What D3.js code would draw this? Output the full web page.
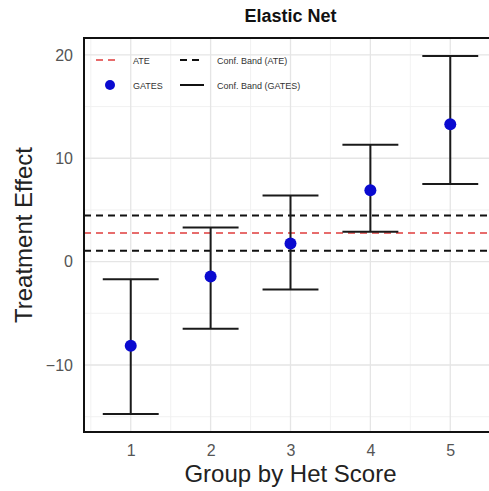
<!DOCTYPE html>
<html>
<head>
<meta charset="utf-8">
<script src="https://cdn.jsdelivr.net/npm/d3@7"></script>
<style>
  html, body { margin: 0; padding: 0; background: #fff; }
  svg { display: block; font-family: "Liberation Sans", Arial, sans-serif; }
</style>
</head>
<body>
<svg id="chart" width="489" height="491"></svg>
<script>
// ---- data ----
const groups = [1, 2, 3, 4, 5];
const gates = [-8.15, -1.45, 1.75, 6.9, 13.3];
const gatesLower = [-14.75, -6.5, -2.7, 2.9, 7.5];
const gatesUpper = [-1.7, 3.3, 6.4, 11.3, 19.9];
const ate = 2.76;
const ateLower = 1.06;
const ateUpper = 4.46;
const yTicks = [-10, 0, 10, 20];
const xTicks = [1, 2, 3, 4, 5];
const legendLabels = ["ATE", "Conf. Band (ATE)", "GATES", "Conf. Band (GATES)"];
const titleText = "Elastic Net";
const xTitle = "Group by Het Score";
const yTitle = "Treatment Effect";

// ---- layout ----
const svg = d3.select("#chart");
const panel = { left: 84, top: 38, right: 497, bottom: 432 };
const capHalf = 0.35;

const x = d3.scaleLinear().domain([0.415, 5.585]).range([panel.left, panel.right]);
const yMin = d3.min(gatesLower), yMax = d3.max(gatesUpper);
const pad = (yMax - yMin) * 0.05;
const y = d3.scaleLinear().domain([yMin - pad, yMax + pad]).range([panel.bottom, panel.top]);

// panel background
svg.append("rect").attr("x", panel.left).attr("y", panel.top)
  .attr("width", panel.right - panel.left).attr("height", panel.bottom - panel.top)
  .attr("fill", "#fff");

// grid
const gGrid = svg.append("g");
const xMinor = [0.5, 1.5, 2.5, 3.5, 4.5, 5.5];
const yMinor = [-15, -5, 5, 15];
gGrid.selectAll(".xm").data(xMinor).join("line")
  .attr("x1", d => x(d)).attr("x2", d => x(d)).attr("y1", panel.top).attr("y2", panel.bottom)
  .attr("stroke", "#f1f1f1").attr("stroke-width", 0.9);
gGrid.selectAll(".ym").data(yMinor).join("line")
  .attr("y1", d => y(d)).attr("y2", d => y(d)).attr("x1", panel.left).attr("x2", panel.right)
  .attr("stroke", "#f1f1f1").attr("stroke-width", 0.9);
gGrid.selectAll(".xM").data(xTicks).join("line")
  .attr("x1", d => x(d)).attr("x2", d => x(d)).attr("y1", panel.top).attr("y2", panel.bottom)
  .attr("stroke", "#e5e5e5").attr("stroke-width", 1.3);
gGrid.selectAll(".yM").data(yTicks).join("line")
  .attr("y1", d => y(d)).attr("y2", d => y(d)).attr("x1", panel.left).attr("x2", panel.right)
  .attr("stroke", "#e5e5e5").attr("stroke-width", 1.3);

// ATE band lines
const hl = svg.append("g");
[ateUpper, ateLower].forEach(v => {
  hl.append("line").attr("x1", panel.left).attr("x2", panel.right)
    .attr("y1", y(v)).attr("y2", y(v))
    .attr("stroke", "#111").attr("stroke-width", 2).attr("stroke-dasharray", "7,5");
});
hl.append("line").attr("x1", panel.left).attr("x2", panel.right)
  .attr("y1", y(ate)).attr("y2", y(ate))
  .attr("stroke", "#e03c3c").attr("stroke-width", 1.5).attr("stroke-dasharray", "7,5");

// error bars
const data = groups.map((g, i) => ({ g, v: gates[i], lo: gatesLower[i], hi: gatesUpper[i] }));
const eb = svg.append("g").attr("stroke", "#1a1a1a").attr("stroke-width", 2);
eb.selectAll(".v").data(data).join("line")
  .attr("x1", d => x(d.g)).attr("x2", d => x(d.g)).attr("y1", d => y(d.lo)).attr("y2", d => y(d.hi));
eb.selectAll(".t").data(data).join("line")
  .attr("x1", d => x(d.g - capHalf)).attr("x2", d => x(d.g + capHalf)).attr("y1", d => y(d.hi)).attr("y2", d => y(d.hi));
eb.selectAll(".b").data(data).join("line")
  .attr("x1", d => x(d.g - capHalf)).attr("x2", d => x(d.g + capHalf)).attr("y1", d => y(d.lo)).attr("y2", d => y(d.lo));

// points
svg.append("g").selectAll("circle").data(data).join("circle")
  .attr("cx", d => x(d.g)).attr("cy", d => y(d.v)).attr("r", 6).attr("fill", "#0a0ad0");

// legend
const lg = svg.append("g").attr("font-size", 9).attr("fill", "#333");
const row1 = 60, row2 = 85;
lg.append("line").attr("x1", 96).attr("x2", 118).attr("y1", row1).attr("y2", row1)
  .attr("stroke", "#e03c3c").attr("stroke-width", 1.5).attr("stroke-dasharray", "7,5");
lg.append("text").attr("x", 133).attr("y", row1 + 3.5).text(legendLabels[0]);
lg.append("line").attr("x1", 180).attr("x2", 204).attr("y1", row1).attr("y2", row1)
  .attr("stroke", "#111").attr("stroke-width", 2).attr("stroke-dasharray", "7,5");
lg.append("text").attr("x", 217).attr("y", row1 + 3.5).text(legendLabels[1]);
lg.append("circle").attr("cx", 110).attr("cy", row2).attr("r", 5).attr("fill", "#0a0ad0");
lg.append("text").attr("x", 133).attr("y", row2 + 3.5).text(legendLabels[2]);
lg.append("line").attr("x1", 180).attr("x2", 204).attr("y1", row2).attr("y2", row2)
  .attr("stroke", "#111").attr("stroke-width", 2);
lg.append("text").attr("x", 217).attr("y", row2 + 3.5).text(legendLabels[3]);

// panel border
svg.append("rect").attr("x", panel.left).attr("y", panel.top)
  .attr("width", panel.right - panel.left).attr("height", panel.bottom - panel.top)
  .attr("fill", "none").attr("stroke", "#111").attr("stroke-width", 2);

// axes
const yAxis = d3.axisLeft(y).tickValues(yTicks).tickSize(0).tickPadding(11)
  .tickFormat(d => d < 0 ? "\u2212" + Math.abs(d) : String(d));
const gy = svg.append("g").attr("transform", `translate(${panel.left},0)`).call(yAxis);
gy.select(".domain").remove();
gy.selectAll("text").attr("font-size", 16).attr("fill", "#555").attr("font-family", "Liberation Sans, Arial, sans-serif");

const xAxis = d3.axisBottom(x).tickValues(xTicks).tickSize(0).tickPadding(13).tickFormat(d3.format("d"));
const gx = svg.append("g").attr("transform", `translate(0,${panel.bottom})`).call(xAxis);
gx.select(".domain").remove();
gx.selectAll("text").attr("font-size", 16).attr("fill", "#555").attr("font-family", "Liberation Sans, Arial, sans-serif");

// titles
svg.append("text").attr("x", (panel.left + panel.right) / 2).attr("y", 22)
  .attr("text-anchor", "middle").attr("font-size", 18).attr("font-weight", "bold").attr("fill", "#111")
  .text(titleText);
svg.append("text").attr("x", (panel.left + panel.right) / 2).attr("y", 482)
  .attr("text-anchor", "middle").attr("font-size", 24).attr("fill", "#222").text(xTitle);
svg.append("text").attr("transform", `translate(32,${(panel.top + panel.bottom) / 2}) rotate(-90)`)
  .attr("text-anchor", "middle").attr("font-size", 24).attr("fill", "#222").text(yTitle);
</script>
</body>
</html>
